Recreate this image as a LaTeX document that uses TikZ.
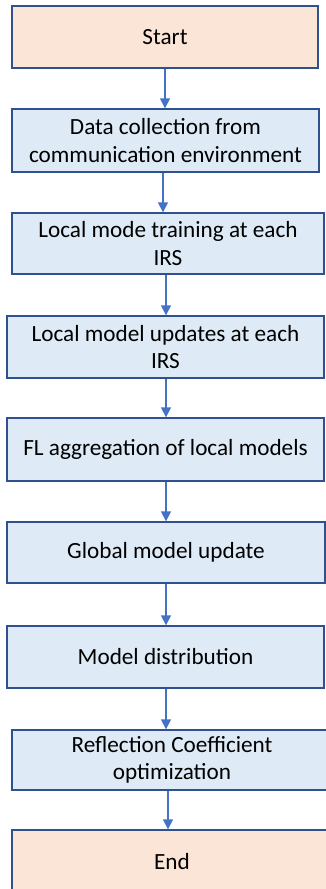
\documentclass[tikz,border=0pt]{standalone}
\usepackage{fontspec}
\setmainfont{Carlito}
\usetikzlibrary{arrows.meta}
\definecolor{boxline}{HTML}{2F528F}
\definecolor{arrowblue}{HTML}{4472C4}
\definecolor{startfill}{HTML}{FBE5D6}
\definecolor{stepfill}{HTML}{DEEBF7}
\begin{document}
\begin{tikzpicture}[x=1pt,y=1pt,line cap=butt,line join=miter,
  box/.style={draw=boxline,line width=1.4pt,fill=stepfill,align=center,
    inner sep=0pt,font=\fontsize{23.2}{27.5}\selectfont},
  termbox/.style={box,fill=startfill},
  flow/.style={draw=arrowblue,line width=1.6pt,-{Triangle[width=10pt,length=10pt]}}]
  \useasboundingbox (0,0) rectangle (326,-889);
  \node[termbox,minimum width=306pt,minimum height=62pt] (start) at (165,-37) {Start};
  \node[box,minimum width=307pt,minimum height=63pt] (data) at (165.5,-140.5)
    {Data collection from\\communication environment};
  \node[box,minimum width=312pt,minimum height=61pt] (train) at (168,-243.5)
    {Local mode training at each\\IRS};
  \node[box,minimum width=317pt,minimum height=62pt] (update) at (165.5,-347)
    {Local model updates at each\\IRS};
  \node[box,minimum width=317pt,minimum height=63pt] (aggr) at (165.5,-449.5)
    {FL aggregation of local models};
  \node[box,minimum width=318pt,minimum height=61pt] (global) at (166,-552.5)
    {Global model update};
  \node[box,minimum width=317pt,minimum height=62pt] (distr) at (165.5,-657)
    {Model distribution};
  \node[box,minimum width=320pt,minimum height=60pt] (refl) at (172,-760)
    {Reflection Coefficient\\optimization};
  \node[termbox,minimum width=320pt,minimum height=64pt] (end) at (172,-862) {End};
  \draw[flow] (start.south) -- (start.south |- data.north);
  \draw[flow] ([xshift=-2.5pt]data.south) -- ([xshift=-2.5pt]data.south |- train.north);
  \draw[flow] ([xshift=-2pt]train.south) -- ([xshift=-2pt]train.south |- update.north);
  \draw[flow] ([xshift=0.5pt]update.south) -- ([xshift=0.5pt]update.south |- aggr.north);
  \draw[flow] ([xshift=0.5pt]aggr.south) -- ([xshift=0.5pt]aggr.south |- global.north);
  \draw[flow] (global.south) -- (global.south |- distr.north);
  \draw[flow] ([xshift=0.5pt]distr.south) -- ([xshift=0.5pt]distr.south |- refl.north);
  \draw[flow] ([xshift=-4pt]refl.south) -- ([xshift=-4pt]refl.south |- end.north);
\end{tikzpicture}
\end{document}
